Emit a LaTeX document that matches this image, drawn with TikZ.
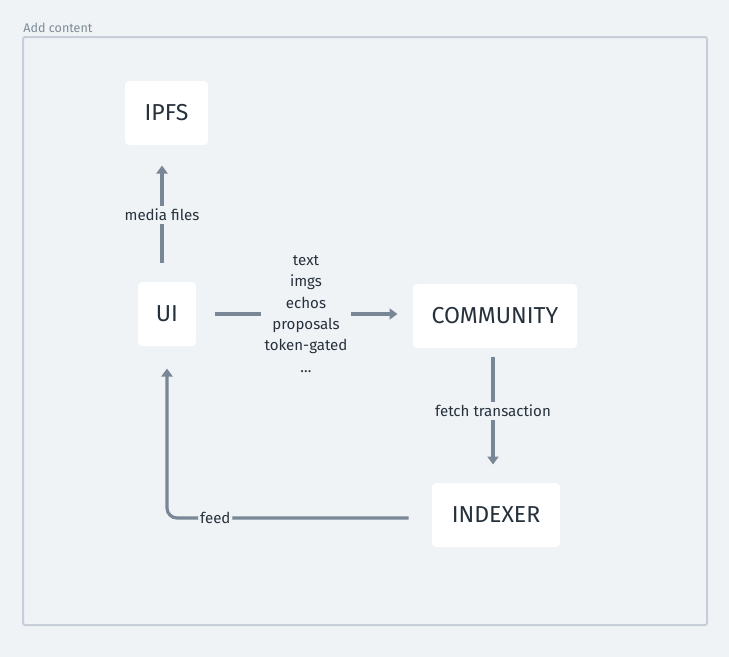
\documentclass[tikz,border=0pt]{standalone}
\usepackage{fontspec}
\setmainfont{Fira Sans}
\usetikzlibrary{arrows.meta}

\definecolor{canvasbg}{HTML}{F0F3F6}
\definecolor{framegrey}{HTML}{C6CFD8}
\definecolor{flowgrey}{HTML}{788695}
\definecolor{inkdark}{HTML}{26313C}
\definecolor{hintgrey}{HTML}{7D8A96}

\tikzset{every picture/.style={line width=0.75pt}}
\tikzset{
  box/.style={fill=white, rounded corners=3pt, minimum height=48pt, inner sep=0pt,
    text=inkdark, font=\fontsize{17.3}{20}\selectfont},
  flow/.style={draw=flowgrey, line width=2.4pt, -{Triangle[width=8.25pt,length=6pt]}},
  lbl/.style={fill=canvasbg, text=inkdark, inner sep=2.5pt, font=\fontsize{11.3}{16}\selectfont}
}

\begin{document}
\begin{tikzpicture}[x=0.75pt,y=0.75pt,yscale=-1,xscale=1]
\useasboundingbox (0,0) rectangle (729,657);
\fill[canvasbg] (0,0) rectangle (729,657);

% Frame
\draw[framegrey, line width=1.5pt, rounded corners=1.5pt] (23,37) rectangle (707,625);
% Text Node
\node (hint) [anchor=west, inner sep=0pt, text=hintgrey, font=\fontsize{9.4}{11}\selectfont] at (23,28) {Add content};

% Boxes
\node (ipfs) [box, minimum width=62.25pt] at (166.5,113) {IPFS};
\node (ui) [box, minimum width=43.5pt] at (167,314) {UI};
\node (community) [box, minimum width=123pt] at (495,316) {COMMUNITY};
\node (indexer) [box, minimum width=96pt] at (496,515) {INDEXER};

% Connectors
\draw[flow, shorten <=14.25pt, shorten >=15pt] ([xshift=-3.75pt]ui.north) -- ([xshift=-3.75pt]ui.north |- ipfs.south)
  node[lbl, pos=0.49] {media files};
\draw[flow, shorten <=13.5pt, shorten >=11.25pt] (ui.east) -- (ui.east -| community.west)
  node[lbl, pos=0.507, align=center] {text\\imgs\\echos\\proposals\\token-gated\\\dots};
\draw[flow, shorten <=6pt, shorten >=13.5pt] ([xshift=-1.5pt]community.south) -- ([xshift=-1.5pt]community.south |- indexer.north)
  node[lbl, pos=0.467] {fetch transaction};
\draw[flow, rounded corners=7.5pt, shorten >=16.5pt] ([shift={(-23,3)}]indexer.west) -| node[lbl, pos=0.4, inner sep=1.5pt] {feed} (ui.south);

\end{tikzpicture}
\end{document}
